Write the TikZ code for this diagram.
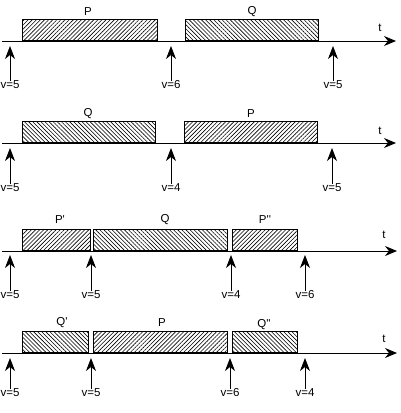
\documentclass[tikz,border=0pt]{standalone}
\usepackage{fontspec}
\setmainfont{Liberation Sans}
\usetikzlibrary{arrows.meta,patterns.meta}
\tikzset{
  job/.style={draw=black, line width=0.9pt, anchor=south west, inner sep=0pt, minimum height=21pt},
  jobP/.style={job, pattern={Lines[angle=45,distance=2.9pt,line width=0.6pt]}},
  jobQ/.style={job, pattern={Lines[angle=-45,distance=2.9pt,line width=0.6pt]}},
  txt/.style={font=\fontsize{11.5}{13}\selectfont, inner sep=0pt},
  timeaxis/.style={line width=0.9pt, -{Stealth[length=12pt,width=10pt,inset=4pt]}},
  event/.style={line width=0.9pt, -{Stealth[length=13pt,width=10pt,inset=4pt]}},
}
\newcommand{\pr}{\textquotesingle}
\begin{document}
\begin{tikzpicture}[x=1pt,y=-1pt]
\useasboundingbox[fill=white] (0,0) rectangle (400,413);

% ---------- schedule 1: P then Q ----------
\coordinate (s1) at (2,41); \coordinate (e1) at (396,41);
\node[jobP, minimum width=135pt] (p1) at (22,41) {};
\node[jobQ, minimum width=133pt] (q1) at (185,41) {};
\draw[timeaxis] (s1) -- (e1);
\node[txt] (lp1) at (88,12) {P};
\node[txt] (lq1) at (252,12) {Q};
\node[txt] (t1) at (380,28) {t};
\node[txt] (v11) at (10,85) {v=5};
\node[txt] (v12) at (171,85) {v=6};
\node[txt] (v13) at (333,85) {v=5};
\coordinate (a11) at (10,46); \coordinate (a12) at (171,46); \coordinate (a13) at (333,46);
\draw[event] (v11.north) -- (a11);
\draw[event] (v12.north) -- (a12);
\draw[event] (v13.north) -- (a13);

% ---------- schedule 2: Q then P ----------
\coordinate (s2) at (2,143); \coordinate (e2) at (396,143);
\node[jobQ, minimum width=133pt] (q2) at (22,143) {};
\node[jobP, minimum width=133pt] (p2) at (184,143) {};
\draw[timeaxis] (s2) -- (e2);
\node[txt] (lq2) at (88,114) {Q};
\node[txt] (lp2) at (251,114) {P};
\node[txt] (t2) at (380,131) {t};
\node[txt] (v21) at (10,188) {v=5};
\node[txt] (v22) at (171,188) {v=4};
\node[txt] (v23) at (332,188) {v=5};
\coordinate (a21) at (10,148); \coordinate (a22) at (171,148); \coordinate (a23) at (332,148);
\draw[event] (v21.north) -- (a21);
\draw[event] (v22.north) -- (a22);
\draw[event] (v23.north) -- (a23);

% ---------- schedule 3: P split around Q ----------
\coordinate (s3) at (2,251); \coordinate (e3) at (397,251);
\node[jobP, minimum width=68pt] (p3a) at (22,251) {};
\node[jobQ, minimum width=134pt] (q3) at (93,251) {};
\node[jobP, minimum width=65pt] (p3b) at (232,251) {};
\draw[timeaxis] (s3) -- (e3);
\node[txt] (lp3a) at (60,220) {P\pr};
\node[txt] (lq3) at (165,220) {Q};
\node[txt] (lp3b) at (265,220) {P\pr\pr};
\node[txt] (t3) at (384,235) {t};
\node[txt] (v31) at (10,295) {v=5};
\node[txt] (v32) at (91,295) {v=5};
\node[txt] (v33) at (231,295) {v=4};
\node[txt] (v34) at (305,295) {v=6};
\coordinate (a31) at (10,255); \coordinate (a32) at (91,255);
\coordinate (a33) at (231,255); \coordinate (a34) at (305,255);
\draw[event] (v31.north) -- (a31);
\draw[event] (v32.north) -- (a32);
\draw[event] (v33.north) -- (a33);
\draw[event] (v34.north) -- (a34);

% ---------- schedule 4: Q split around P ----------
\coordinate (s4) at (2,353); \coordinate (e4) at (397,353);
\node[jobQ, minimum width=66pt] (q4a) at (22,353) {};
\node[jobP, minimum width=134pt] (p4) at (93,353) {};
\node[jobQ, minimum width=65pt] (q4b) at (232,353) {};
\draw[timeaxis] (s4) -- (e4);
\node[txt] (lq4a) at (62,323) {Q\pr};
\node[txt] (lp4) at (162,323) {P};
\node[txt] (lq4b) at (264,325) {Q\pr\pr};
\node[txt] (t4) at (384,339) {t};
\node[txt] (v41) at (10,393) {v=5};
\node[txt] (v42) at (91,393) {v=5};
\node[txt] (v43) at (230,393) {v=6};
\node[txt] (v44) at (305,393) {v=4};
\coordinate (a41) at (10,358); \coordinate (a42) at (91,358);
\coordinate (a43) at (230,358); \coordinate (a44) at (305,358);
\draw[event] (v41.north) -- (a41);
\draw[event] (v42.north) -- (a42);
\draw[event] (v43.north) -- (a43);
\draw[event] (v44.north) -- (a44);
\end{tikzpicture}
\end{document}
